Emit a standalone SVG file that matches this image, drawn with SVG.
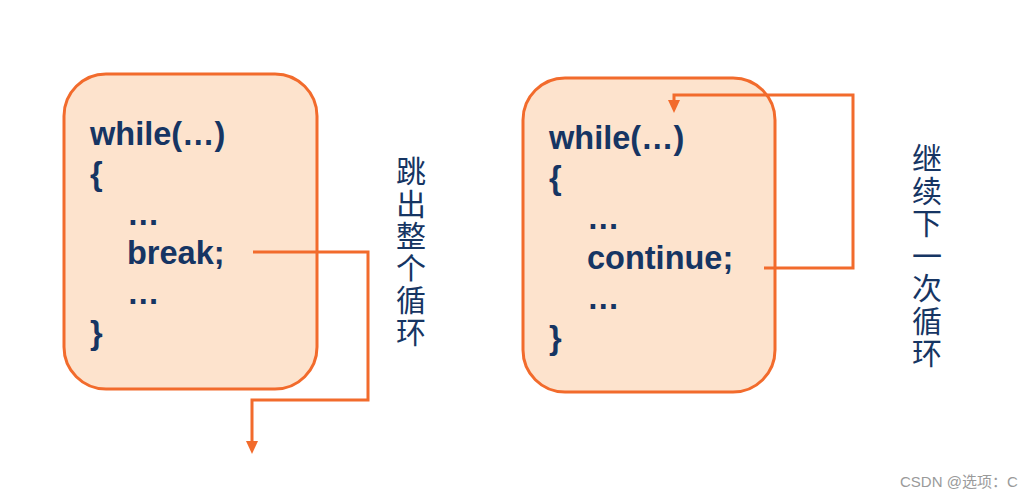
<svg xmlns="http://www.w3.org/2000/svg" width="1031" height="500" viewBox="0 0 1031 500">
<style>
.box{fill:#fde3cd;stroke:#f26b2c;stroke-width:3}
.code{font-family:"Liberation Sans",Arial,sans-serif;font-weight:bold;font-size:32.5px;fill:#163563}
.cn{font-family:"Noto Sans CJK SC",sans-serif;font-size:30px;fill:#163563;writing-mode:vertical-rl;letter-spacing:2.2px}
.conn{fill:none;stroke:#f26b2c;stroke-width:3}
.wm{font-family:"Liberation Sans","Noto Sans CJK SC",sans-serif;font-size:15px;fill:#9a9a9a}
</style>
<defs>
<marker id="arr" markerWidth="13" markerHeight="12" refX="5" refY="6" orient="auto" markerUnits="userSpaceOnUse" viewBox="0 0 13 12">
<path d="M0,0 L13,6 L0,12 Z" fill="#f26b2c"/>
</marker>
</defs>
<rect width="1031" height="500" fill="#ffffff"/>
<g id="break-box">
<rect class="box" x="64" y="74" width="253" height="315" rx="42"/>
<text class="code" x="90" y="145">while(…)</text>
<text class="code" x="90" y="185">{</text>
<text class="code" x="127" y="225">…</text>
<text class="code" x="127" y="264">break;</text>
<text class="code" x="127" y="304">…</text>
<text class="code" x="90" y="344">}</text>
</g>
<g id="continue-box">
<rect class="box" x="523" y="78" width="252" height="314" rx="42"/>
<text class="code" x="549" y="149">while(…)</text>
<text class="code" x="549" y="189">{</text>
<text class="code" x="587" y="229">…</text>
<text class="code" x="587" y="269">continue;</text>
<text class="code" x="587" y="309">…</text>
<text class="code" x="549" y="349">}</text>
</g>
<g id="connectors">
<path class="conn" d="M253,252 H368 V400 H252 V446" marker-end="url(#arr)"/>
<path class="conn" d="M764,268 H853 V95 H674 V105" marker-end="url(#arr)"/>
</g>
<g id="label-break">
<text class="cn" x="411" y="156">跳出整个循环</text>
</g>
<g id="label-continue">
<text class="cn" x="927" y="143" style="letter-spacing:2.5px">继续下一次循环</text>
</g>
<text class="wm" x="900" y="487">CSDN @选项：C</text>
</svg>
